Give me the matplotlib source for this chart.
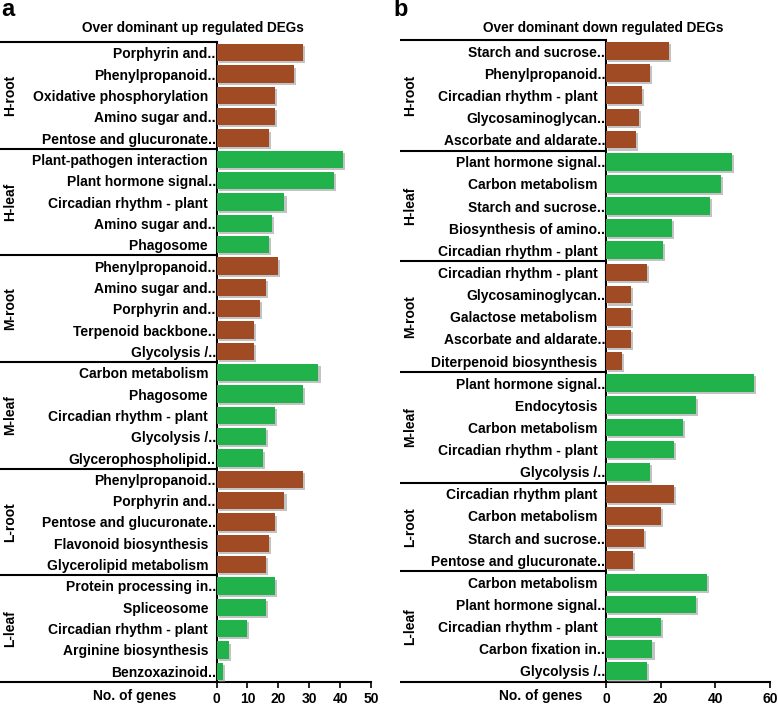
import matplotlib.pyplot as plt
import matplotlib.patheffects as pe
import matplotlib.transforms as mtransforms

plt.rcParams['font.family'] = ['Liberation Sans', 'DejaVu Sans']
plt.rcParams['font.weight'] = 'bold'

# =====================================================
# DATA
# =====================================================
groups_a = ['H-root', 'H-leaf', 'M-root', 'M-leaf', 'L-root', 'L-leaf']
labels_a = [
    ['Porphyrin and..', 'Phenylpropanoid..', 'Oxidative phosphorylation',
     'Amino sugar and..', 'Pentose and glucuronate..'],
    ['Plant-pathogen interaction', 'Plant hormone signal..',
     'Circadian rhythm - plant', 'Amino sugar and..', 'Phagosome'],
    ['Phenylpropanoid..', 'Amino sugar and..', 'Porphyrin and..',
     'Terpenoid backbone..', 'Glycolysis /..'],
    ['Carbon metabolism', 'Phagosome', 'Circadian rhythm - plant',
     'Glycolysis /..', 'Glycerophospholipid..'],
    ['Phenylpropanoid..', 'Porphyrin and..', 'Pentose and glucuronate..',
     'Flavonoid biosynthesis', 'Glycerolipid metabolism'],
    ['Protein processing in..', 'Spliceosome', 'Circadian rhythm - plant',
     'Arginine biosynthesis', 'Benzoxazinoid..'],
]
values_a = [
    [28, 25, 19, 19, 17],
    [41, 38, 22, 18, 17],
    [20, 16, 14, 12, 12],
    [33, 28, 19, 16, 15],
    [28, 22, 19, 17, 16],
    [19, 16, 10, 4, 2],
]

groups_b = ['H-root', 'H-leaf', 'M-root', 'M-leaf', 'L-root', 'L-leaf']
labels_b = [
    ['Starch and sucrose..', 'Phenylpropanoid..', 'Circadian rhythm - plant',
     'Glycosaminoglycan..', 'Ascorbate and aldarate..'],
    ['Plant hormone signal..', 'Carbon metabolism', 'Starch and sucrose..',
     'Biosynthesis of amino..', 'Circadian rhythm - plant'],
    ['Circadian rhythm - plant', 'Glycosaminoglycan..', 'Galactose metabolism',
     'Ascorbate and aldarate..', 'Diterpenoid biosynthesis'],
    ['Plant hormone signal..', 'Endocytosis', 'Carbon metabolism',
     'Circadian rhythm - plant', 'Glycolysis /..'],
    ['Circadian rhythm plant', 'Carbon metabolism', 'Starch and sucrose..',
     'Pentose and glucuronate..'],
    ['Carbon metabolism', 'Plant hormone signal..', 'Circadian rhythm - plant',
     'Carbon fixation in..', 'Glycolysis /..'],
]
values_b = [
    [23, 16, 13, 12, 11],
    [46, 42, 38, 24, 21],
    [15, 9, 9, 9, 6],
    [54, 33, 28, 25, 16],
    [25, 20, 14, 10],
    [37, 33, 20, 17, 15],
]

BROWN = '#A04B24'
GREEN = '#22B24C'

W, H = 778, 706
fig = plt.figure(figsize=(W / 100, H / 100), dpi=100)


def draw_panel(ax_px, panel_left_px, group_x_px, groups, labels, values,
               xmax, xticks, title, title_x_px, letter, letter_x_px, genes_x_px):
    x0, x1, ytop, ybot = ax_px
    ax = fig.add_axes([x0 / W, 1 - ybot / H, (x1 - x0) / W, (ybot - ytop) / H])

    names, vals, cols, bounds = [], [], [], [0]
    for i, (lab, val) in enumerate(zip(labels, values)):
        for l in lab:
            names.append(l if l.endswith('..') else l + '  ')
        vals += val
        cols += [BROWN if i % 2 == 0 else GREEN] * len(val)
        bounds.append(bounds[-1] + len(val))
    n = len(vals)
    ypos = list(range(n))

    bars = ax.barh(ypos, vals, height=0.8, color=cols, zorder=3)
    for b in bars:
        b.set_path_effects([pe.SimplePatchShadow(offset=(1.5, -1.5),
                                                 shadow_rgbFace='#888888',
                                                 alpha=0.5), pe.Normal()])

    ax.set_ylim(n - 0.5, -0.5)
    ax.set_xlim(0, xmax)
    ax.set_yticks(ypos)
    ax.set_yticklabels(names, fontsize=10, fontweight='bold')
    ax.tick_params(axis='y', length=0, pad=0.5)
    ax.set_xticks(xticks)
    ax.set_xticklabels([str(t) for t in xticks], fontsize=10, fontweight='bold')
    ax.tick_params(axis='x', length=4, width=1.2, pad=3)
    for s in ['top', 'right']:
        ax.spines[s].set_visible(False)
    ax.spines['left'].set_linewidth(1.5)
    ax.spines['bottom'].set_linewidth(1.5)

    # group separators from panel left edge to axis
    trans = mtransforms.blended_transform_factory(fig.transFigure, ax.transData)
    for bnd in bounds:
        ax.plot([panel_left_px / W, x0 / W], [bnd - 0.5, bnd - 0.5],
                transform=trans, color='black', lw=1.5, clip_on=False,
                solid_capstyle='butt')

    # group names
    for i, g in enumerate(groups):
        mid = (bounds[i] + bounds[i + 1] - 1) / 2
        ax.text(group_x_px / W, mid, g, transform=trans, rotation=90,
                ha='center', va='center', fontsize=10, fontweight='bold')

    fig.text(title_x_px / W, 1 - 28 / H, title, ha='center', va='center',
             fontsize=9.8, fontweight='bold')
    fig.text(letter_x_px / W, 1 - 10 / H, letter, ha='left', va='center',
             fontsize=17, fontweight='bold')
    fig.text(genes_x_px / W, 1 - 696 / H, 'No. of genes', ha='center',
             va='center', fontsize=10, fontweight='bold')
    return ax


draw_panel((216.5, 371, 42, 682), 0, 10, groups_a, labels_a, values_a,
           50, [0, 10, 20, 30, 40, 50], 'Over dominant up regulated DEGs',
           193, 'a', 1, 135)
draw_panel((606, 770, 40, 682), 400, 410, groups_b, labels_b, values_b,
           60, [0, 20, 40, 60], 'Over dominant down regulated DEGs',
           603, 'b', 393, 541)

fig.savefig('out.png', dpi=100)
